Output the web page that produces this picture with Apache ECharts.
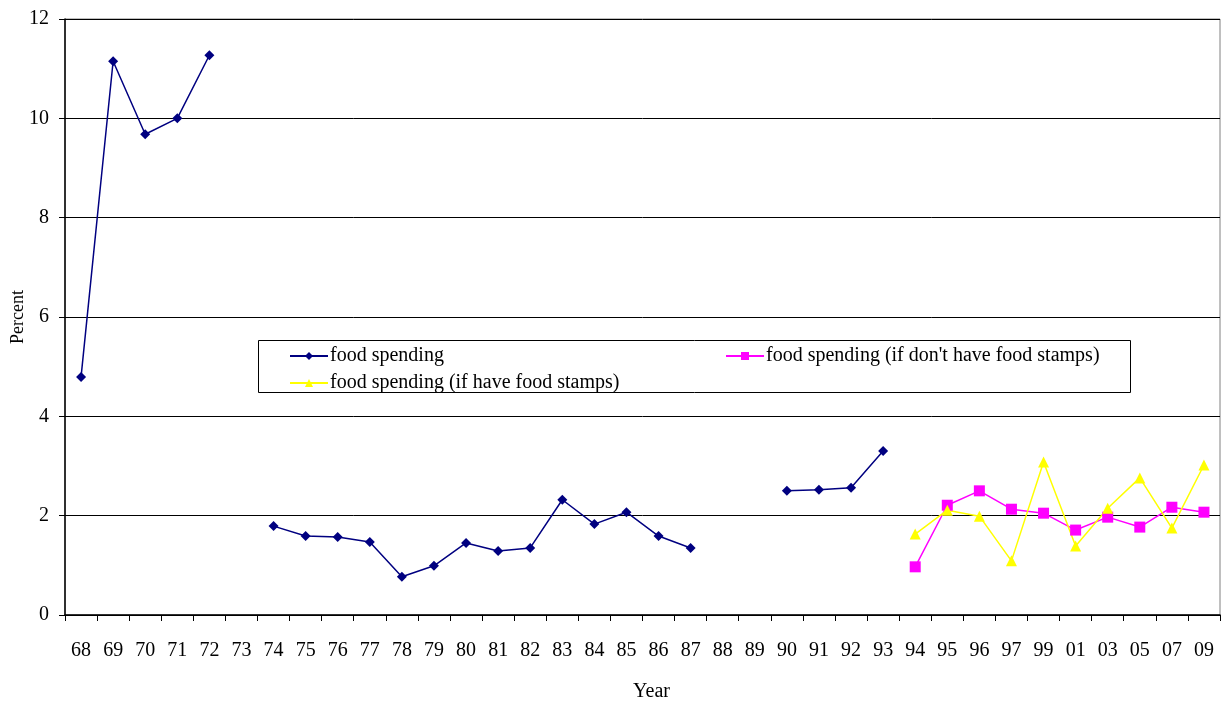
<!DOCTYPE html>
<html>
<head>
<meta charset="utf-8">
<script src="https://cdn.jsdelivr.net/npm/echarts@6/dist/echarts.min.js"></script>
<style>
  html, body { margin: 0; padding: 0; background: #fff; }
  #chart { width: 1224px; height: 702px; }
</style>
</head>
<body>
<div id="chart"></div>
<script>
var years = ['68', '69', '70', '71', '72', '73', '74', '75', '76', '77', '78', '79', '80', '81', '82',
  '83', '84', '85', '86', '87', '88', '89', '90', '91', '92', '93', '94', '95', '96', '97',
  '99', '01', '03', '05', '07', '09'];

var foodSpending = [4.79, 11.15, 9.68, 10.0, 11.27, null, 1.79, 1.59, 1.57, 1.47, 0.77, 0.99, 1.45, 1.29, 1.35,
  2.32, 1.83, 2.07, 1.59, 1.35, null, null, 2.50, 2.52, 2.56, 3.30, null, null, null, null,
  null, null, null, null, null, null];

var noStamps = [null, null, null, null, null, null, null, null, null, null, null, null, null, null, null,
  null, null, null, null, null, null, null, null, null, null, null, 0.97, 2.21, 2.50, 2.13,
  2.05, 1.71, 1.97, 1.77, 2.17, 2.07];

var withStamps = [null, null, null, null, null, null, null, null, null, null, null, null, null, null, null,
  null, null, null, null, null, null, null, null, null, null, null, 1.63, 2.11, 1.99, 1.09,
  3.08, 1.39, 2.15, 2.76, 1.75, 3.02];

var yTicks = [0, 2, 4, 6, 8, 10, 12];

var font = 'Liberation Serif';
var myChart = echarts.init(document.getElementById('chart'));
var option;

option = {
  backgroundColor: '#fff',
  animation: false,
  textStyle: { fontFamily: font },
  grid: {
    left: 65, top: 19, right: 4, bottom: 87,
    outerBoundsMode: 'none',
    containLabel: false,
    show: true, borderColor: '#808080', borderWidth: 1
  },
  graphic: [
    {
      type: 'rect', z: 50,
      shape: { x: 258.5, y: 340.5, width: 872, height: 52 },
      style: { fill: '#fff', stroke: '#000', lineWidth: 1 }
    }
  ],
  legend: [
    {
      z: 60, orient: 'vertical', left: 284, top: 341,
      itemWidth: 38, itemHeight: 10, itemGap: 7,
      textStyle: { fontFamily: font, fontSize: 20, color: '#000', padding: [0, 0, 0, -3] },
      data: ['food spending', 'food spending (if have food stamps)']
    },
    {
      z: 60, orient: 'vertical', left: 720, top: 341,
      itemWidth: 38, itemHeight: 10,
      textStyle: { fontFamily: font, fontSize: 20, color: '#000', padding: [0, 0, 0, -3] },
      data: ["food spending (if don't have food stamps)"]
    }
  ],
  xAxis: {
    type: 'category',
    data: years,
    boundaryGap: true,
    name: 'Year',
    nameLocation: 'middle',
    nameGap: 67,
    nameMoveOverlap: false,
    nameTextStyle: { fontFamily: font, fontSize: 20, color: '#000', padding: [0, 0, 0, 18] },
    axisLine: { lineStyle: { color: '#000', width: 1.5 } },
    axisTick: { show: true, alignWithLabel: false, length: 6, lineStyle: { color: '#000' } },
    axisLabel: { interval: 0, margin: 26, fontFamily: font, fontSize: 20, color: '#000' },
    splitLine: { show: false }
  },
  yAxis: {
    type: 'value',
    min: yTicks[0],
    max: yTicks[yTicks.length - 1],
    interval: 2,
    name: 'Percent',
    nameLocation: 'middle',
    nameGap: 38,
    nameMoveOverlap: false,
    nameTextStyle: { fontFamily: font, fontSize: 18, color: '#000' },
    axisLine: { show: true, lineStyle: { color: '#000', width: 1.5 } },
    axisTick: { show: true, length: 6, lineStyle: { color: '#000' } },
    axisLabel: { margin: 16, fontFamily: font, fontSize: 20, color: '#000' },
    splitLine: { show: true, lineStyle: { color: '#000', width: 1 } }
  },
  series: [
    {
      name: 'food spending',
      type: 'line',
      data: foodSpending,
      symbol: 'diamond',
      symbolSize: 10,
      color: '#000080',
      lineStyle: { width: 1.5, color: '#000080' },
      itemStyle: { color: '#000080' }
    },
    {
      name: "food spending (if don't have food stamps)",
      type: 'line',
      data: noStamps,
      symbol: 'rect',
      symbolSize: 11,
      color: '#FF00FF',
      lineStyle: { width: 1.5, color: '#FF00FF' },
      itemStyle: { color: '#FF00FF' }
    },
    {
      name: 'food spending (if have food stamps)',
      type: 'line',
      data: withStamps,
      symbol: 'triangle',
      symbolSize: 11,
      color: '#FFFF00',
      lineStyle: { width: 1.5, color: '#FFFF00' },
      itemStyle: { color: '#FFFF00' }
    }
  ]
};

myChart.setOption(option);
</script>
</body>
</html>
